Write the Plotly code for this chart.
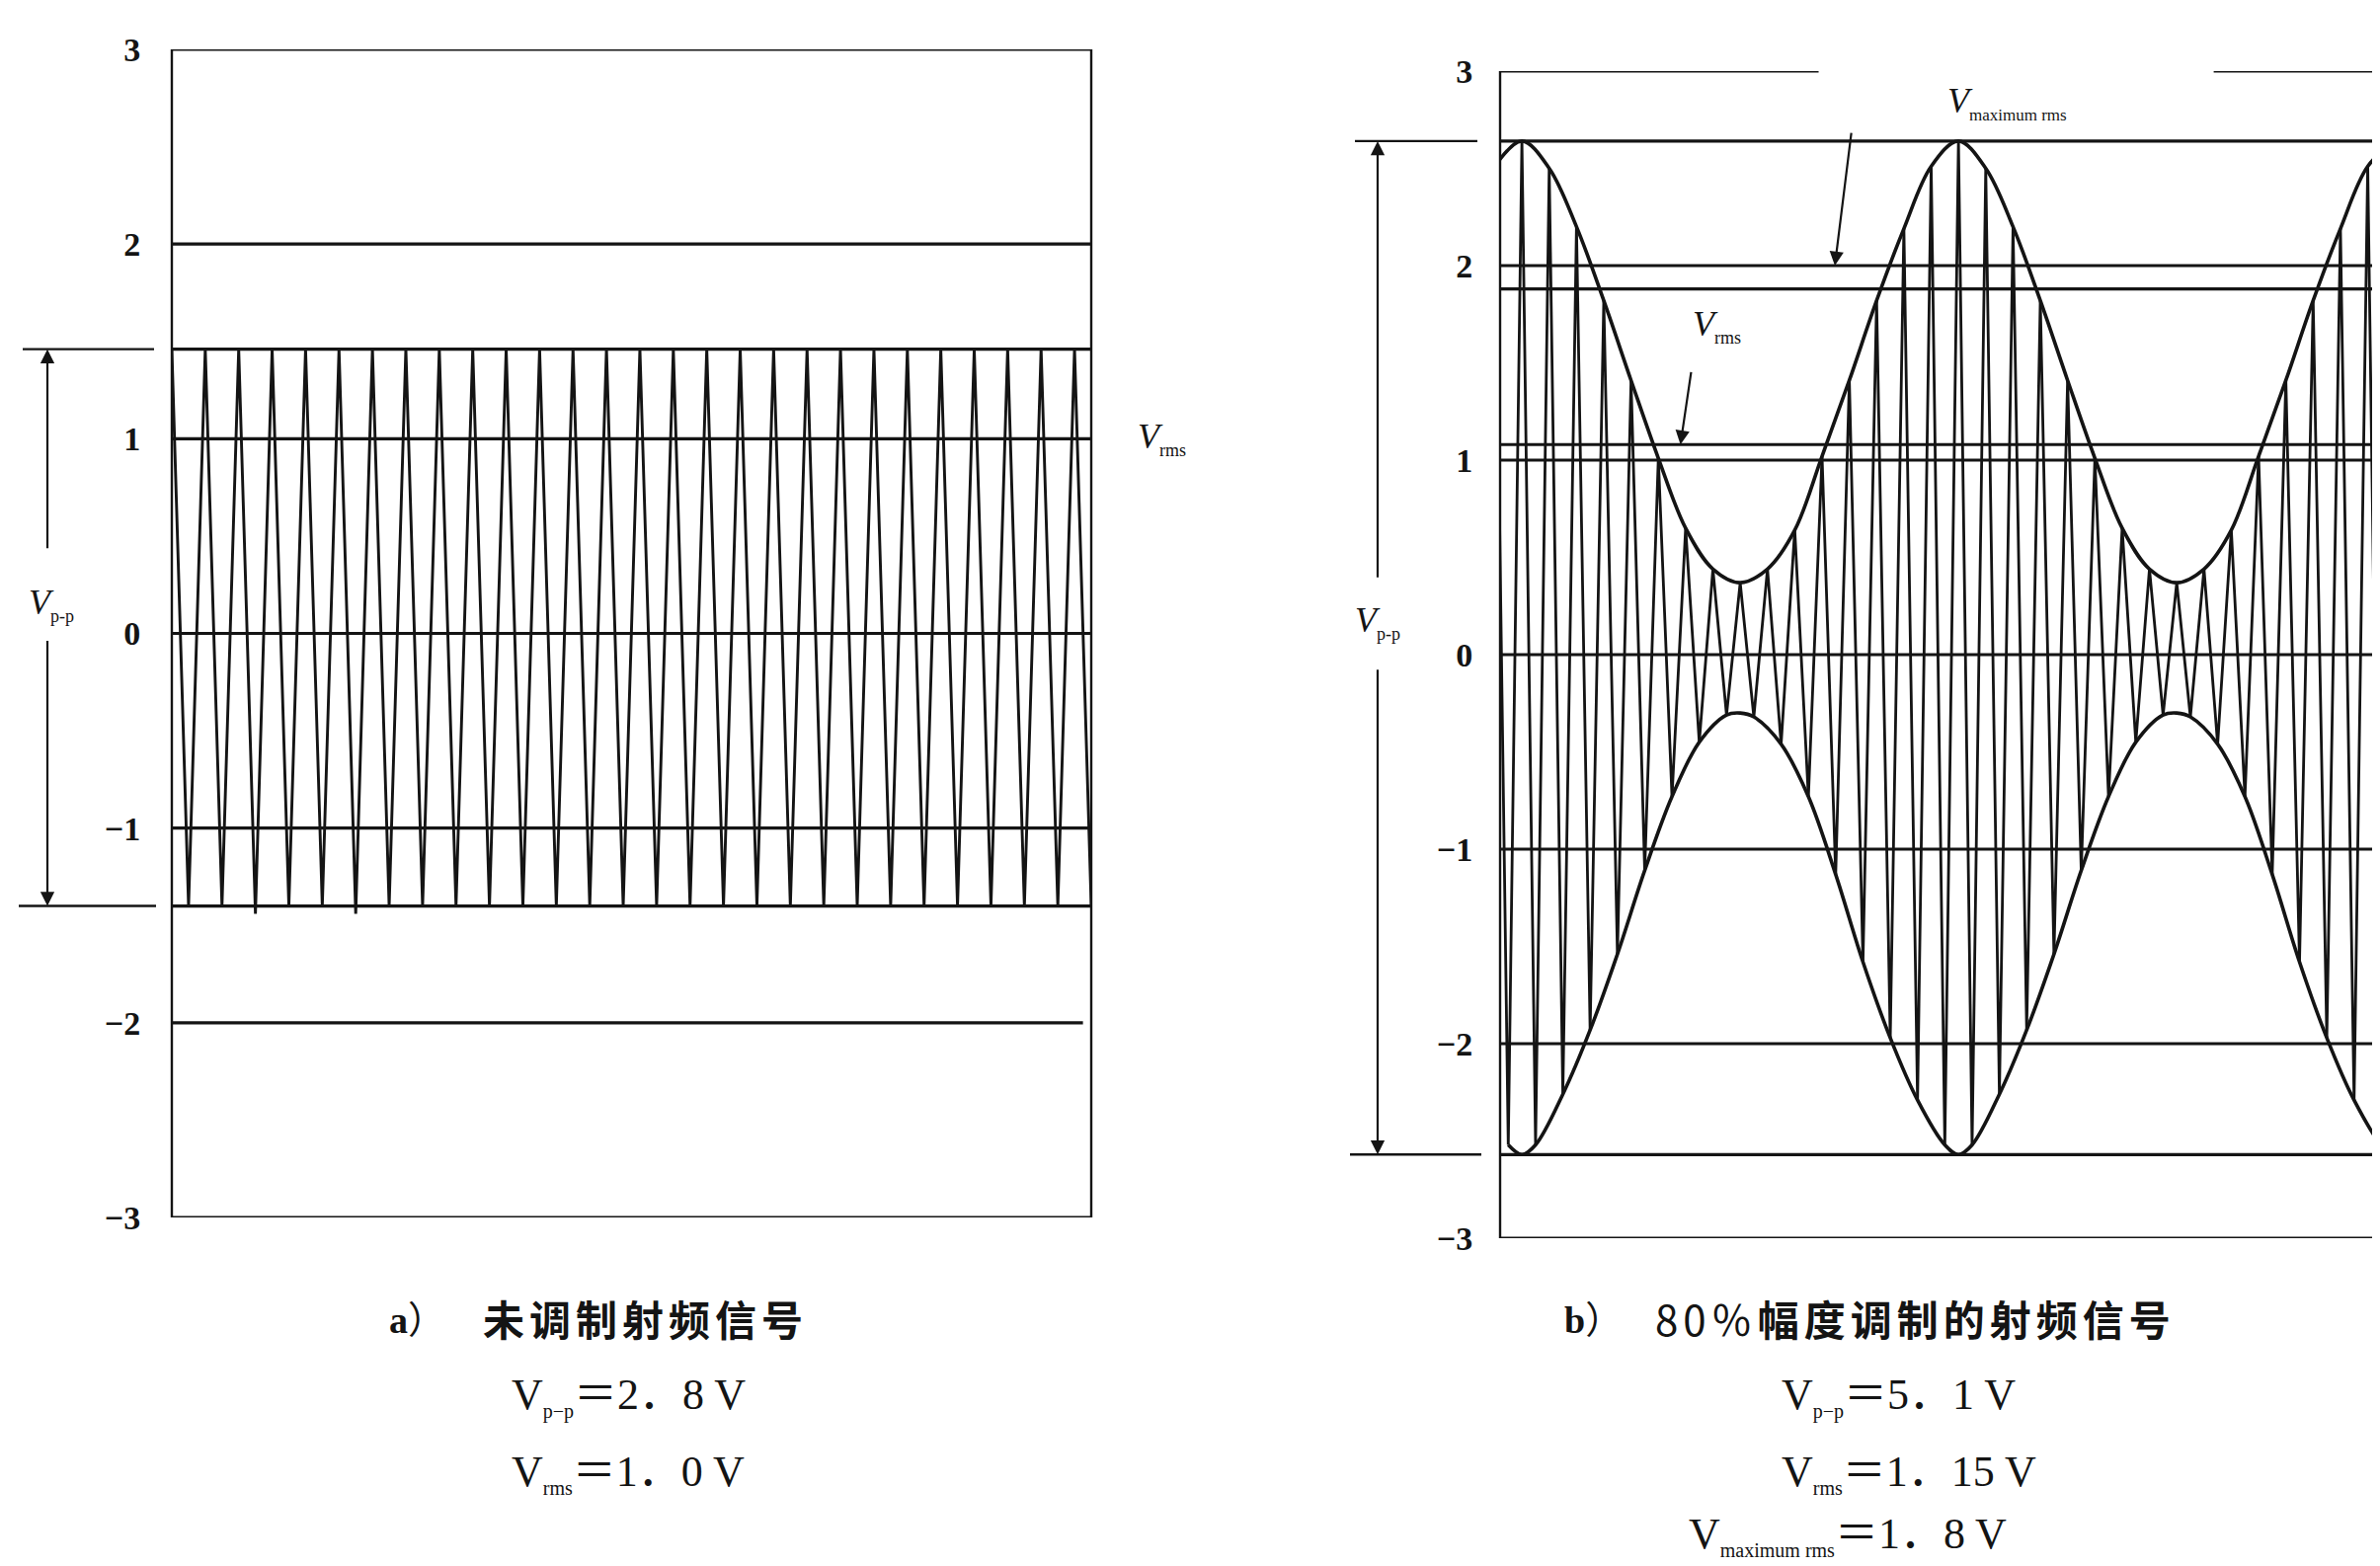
import plotly.graph_objects as go

# The page body adds an 8 px margin; the figure is sized so that it fills the window exactly.
OFF = 8
WIN_W, WIN_H = 2410, 1586
W, H = WIN_W - OFF, WIN_H - OFF
INK = "#141414"
SERIF = "Liberation Serif, 'Noto Sans CJK SC', serif"
CJK = "'Noto Sans CJK SC', sans-serif"


def fx(px):  # window pixel -> paper x
    return (px - OFF) / W


def fy(py):  # window pixel -> paper y
    return 1 - (py - OFF) / H


# ---------------- common axis ticks ----------------
y_ticks = [3, 2, 1, 0, -1, -2, -3]
y_tick_text = ["3", "2", "1", "0", "−1", "−2", "−3"]

# ---------------- a) unmodulated RF signal (values read from the figure) ----------------
a_peak_t = [float(i) for i in range(28)]          # time, in carrier cycles
a_trough_t = [i + 0.5 for i in range(28)]
a_peaks = [1.46, 1.46, 1.46, 1.46, 1.46, 1.46, 1.46, 1.46, 1.46, 1.46,
           1.46, 1.46, 1.46, 1.46, 1.46, 1.46, 1.46, 1.46, 1.46, 1.46,
           1.46, 1.46, 1.46, 1.46, 1.46, 1.46, 1.46, 1.46]
a_troughs = [-1.40, -1.40, -1.44, -1.40, -1.40, -1.44, -1.40, -1.40, -1.40, -1.40,
             -1.40, -1.40, -1.40, -1.40, -1.40, -1.40, -1.40, -1.40, -1.40, -1.40,
             -1.40, -1.40, -1.40, -1.40, -1.40, -1.40, -1.40, -1.40]
a_grid = [2, 1, 0, -1]
a_grid_short = [-2]
a_vpp = [1.46, -1.40]
a_vrms = 1.0

# ---------------- b) 80 % AM RF signal (values read from the figure) ----------------
b_peak_t = [i - 1.0 for i in range(34)]           # -1 .. 32 carrier cycles
b_peaks = [2.51,
           2.64, 2.50, 2.20, 1.82, 1.41, 1.01, 0.65, 0.44, 0.37, 0.44, 0.64, 1.02, 1.41, 1.82, 2.19, 2.51,
           2.64, 2.50, 2.20, 1.82, 1.41, 1.01, 0.65, 0.44, 0.37, 0.44, 0.64, 1.02, 1.41, 1.82, 2.19, 2.51,
           2.64]
b_trough_t = [i - 0.5 for i in range(33)]         # -0.5 .. 31.5
b_troughs = [-2.52,
             -2.52, -2.26, -1.93, -1.54, -1.11, -0.73, -0.45, -0.31, -0.32, -0.46, -0.73, -1.13, -1.58, -1.97, -2.29, -2.52,
             -2.52, -2.26, -1.93, -1.54, -1.11, -0.73, -0.45, -0.31, -0.32, -0.46, -0.73, -1.13, -1.58, -1.97, -2.29, -2.52]
b_low_turn_t = [0.0, 8.0, 16.0, 24.0, 32.0]
b_low_turn = [-2.57, -0.30, -2.57, -0.30, -2.57]
b_grid = [2, 1, 0, -1, -2]
b_aux = [1.88, 1.08]
b_vpp = [2.64, -2.57]
b_vrms = 1.08
b_vmax_rms = 2.0

# ---------------- captions ----------------
cap_a_tag = "<b>a</b>）"
cap_a_title = "未调制射频信号"
cap_a_lines = ["V<sub><span style='font-size:20px'>p−p</span></sub>＝2．8 V",
               "V<sub><span style='font-size:20px'>rms</span></sub>＝1．0 V"]
cap_b_tag = "<b>b</b>）"
cap_b_title = "80％<b>幅度调制的射频信号</b>"
cap_b_lines = ["V<sub><span style='font-size:20px'>p−p</span></sub>＝5．1 V",
               "V<sub><span style='font-size:20px'>rms</span></sub>＝1．15 V",
               "V<sub><span style='font-size:20px'>maximum rms</span></sub>＝1．8 V"]


def merge(t1, v1, t2, v2):
    pts = sorted(zip(list(t1) + list(t2), list(v1) + list(v2)))
    return [p[0] for p in pts], [p[1] for p in pts]


fig = go.Figure()

ta, va = merge(a_peak_t, a_peaks, a_trough_t, a_troughs)
fig.add_trace(go.Scatter(x=ta, y=va, mode="lines", line=dict(color=INK, width=2.9),
                         xaxis="x", yaxis="y", hoverinfo="skip"))

tb, vb = merge(b_peak_t, b_peaks, b_trough_t, b_troughs)
fig.add_trace(go.Scatter(x=tb, y=vb, mode="lines", line=dict(color=INK, width=2.8),
                         xaxis="x2", yaxis="y2", hoverinfo="skip"))
fig.add_trace(go.Scatter(x=b_peak_t, y=b_peaks, mode="lines",
                         line=dict(color=INK, width=3.6, shape="spline"),
                         xaxis="x2", yaxis="y2", hoverinfo="skip"))
tl, vl = merge(b_trough_t, b_troughs, b_low_turn_t, b_low_turn)
fig.add_trace(go.Scatter(x=tl, y=vl, mode="lines",
                         line=dict(color=INK, width=3.6, shape="spline"),
                         xaxis="x2", yaxis="y2", hoverinfo="skip"))


def hl(xref, yref, y, x0=0.0, x1=1.0, w=3.2):
    return dict(type="line", xref=xref, yref=yref, x0=x0, x1=x1, y0=y, y1=y,
                line=dict(color=INK, width=w))


def vl_(xref, yref, x, y0=-3, y1=3, w=2.4):
    return dict(type="line", xref=xref, yref=yref, x0=x, x1=x, y0=y0, y1=y1,
                line=dict(color=INK, width=w))


shapes = []
# panel a frame and levels
shapes += [hl("x domain", "y", 3), hl("x domain", "y", -3),
           vl_("x domain", "y", 0), vl_("x domain", "y", 1)]
shapes += [hl("x domain", "y", v) for v in a_grid]
shapes += [hl("x domain", "y", v, 0, 0.991) for v in a_grid_short]
shapes += [hl("x domain", "y", v) for v in a_vpp]
shapes += [hl("paper", "y", a_vpp[0], fx(23), fx(156), 2.4),
           hl("paper", "y", a_vpp[1], fx(19), fx(158), 2.4)]
# panel b frame and levels
shapes += [hl("x2 domain", "y2", 3, 0, 0.362), hl("x2 domain", "y2", 3, 0.811, 1),
           hl("x2 domain", "y2", -3), vl_("x2 domain", "y2", 0)]
shapes += [hl("x2 domain", "y2", v) for v in b_grid + b_aux + b_vpp]
shapes += [hl("paper", "y2", b_vpp[0], fx(1372), fx(1496), 2.4),
           hl("paper", "y2", b_vpp[1], fx(1367), fx(1500), 2.4)]

ann = []


def arrow(xref, yref, x, y, ax, ay, axref, ayref):
    return dict(xref=xref, yref=yref, x=x, y=y, ax=ax, ay=ay, axref=axref, ayref=ayref,
                text="", showarrow=True, arrowhead=2, arrowsize=1.3, arrowwidth=2.2,
                arrowcolor=INK)


# V p-p arrows
ann += [arrow("paper", "y", fx(48), a_vpp[0], 0, 0.43, "pixel", "y"),
        arrow("paper", "y", fx(48), a_vpp[1], 0, -0.03, "pixel", "y"),
        arrow("paper", "y2", fx(1395), b_vpp[0], 0, 0.39, "pixel", "y2"),
        arrow("paper", "y2", fx(1395), b_vpp[1], 0, -0.07, "pixel", "y2")]
# rms arrows in panel b
ann += [arrow("x2", "y2", 11.47, b_vmax_rms, 12.08, 2.69, "x2", "y2"),
        arrow("x2", "y2", 5.81, b_vrms, 6.21, 1.46, "x2", "y2")]


def label(text, x, y, xref, yref, size=36, family=SERIF, xanchor="center", yanchor="middle"):
    return dict(text=text, x=x, y=y, xref=xref, yref=yref, showarrow=False,
                xanchor=xanchor, yanchor=yanchor, font=dict(family=family, size=size, color=INK))


ann += [label("<i>V</i><sub><span style='font-size:18px'>p-p</span></sub>", fx(52), 0.15, "paper", "y"),
        label("<i>V</i><sub><span style='font-size:18px'>rms</span></sub>", fx(1176), a_vrms, "paper", "y"),
        label("<i>V</i><sub><span style='font-size:18px'>p-p</span></sub>", fx(1395), 0.17, "paper", "y2"),
        label("<i>V</i><sub><span style='font-size:18px'>rms</span></sub>", 7.13, 1.69, "x2", "y2"),
        label("<i>V</i><sub><span style='font-size:17px'>maximum rms</span></sub>", 17.77, 2.84, "x2", "y2")]

# captions
ann += [label(cap_a_tag, fx(392), fy(1337), "paper", "paper", 38, SERIF, "left"),
        label("<span style='letter-spacing:5px'><b>" + cap_a_title + "</b></span>",
              fx(487), fy(1334), "paper", "paper", 42, CJK, "left"),
        label(cap_a_lines[0], fx(516), fy(1414), "paper", "paper", 44, SERIF, "left"),
        label(cap_a_lines[1], fx(516), fy(1492), "paper", "paper", 44, SERIF, "left"),
        label(cap_b_tag, fx(1582), fy(1337), "paper", "paper", 38, SERIF, "left"),
        label("<span style='letter-spacing:5px'>" + cap_b_title + "</span>",
              fx(1674), fy(1334), "paper", "paper", 42, CJK, "left"),
        label(cap_b_lines[0], fx(1802), fy(1414), "paper", "paper", 44, SERIF, "left"),
        label(cap_b_lines[1], fx(1802), fy(1492), "paper", "paper", 44, SERIF, "left"),
        label(cap_b_lines[2], fx(1708), fy(1555), "paper", "paper", 44, SERIF, "left")]

yax = dict(range=[-3, 3], tickvals=y_ticks, ticktext=y_tick_text, ticks="outside", ticklen=24,
           tickcolor="rgba(0,0,0,0)", showgrid=False, zeroline=False, showline=False,
           automargin=False,
           tickfont=dict(family=SERIF, size=34, color=INK, weight="bold"), fixedrange=True)

fig.update_layout(
    width=W, height=H, margin=dict(l=0, r=0, t=0, b=0, autoexpand=False),
    paper_bgcolor="white", plot_bgcolor="white", showlegend=False,
    xaxis=dict(domain=[fx(174), fx(1105)], range=[0, 27.5], visible=False, anchor="y",
               automargin=False),
    yaxis=dict(domain=[fy(1233), fy(50)], anchor="x", **yax),
    xaxis2=dict(domain=[fx(1519), 1.0], range=[-0.8, 31.45], visible=False, anchor="y2",
                automargin=False),
    yaxis2=dict(domain=[fy(1254), fy(72)], anchor="x2", **{**yax, "ticklen": 20}),
    shapes=shapes, annotations=ann,
)

fig.write_html("out.html")
